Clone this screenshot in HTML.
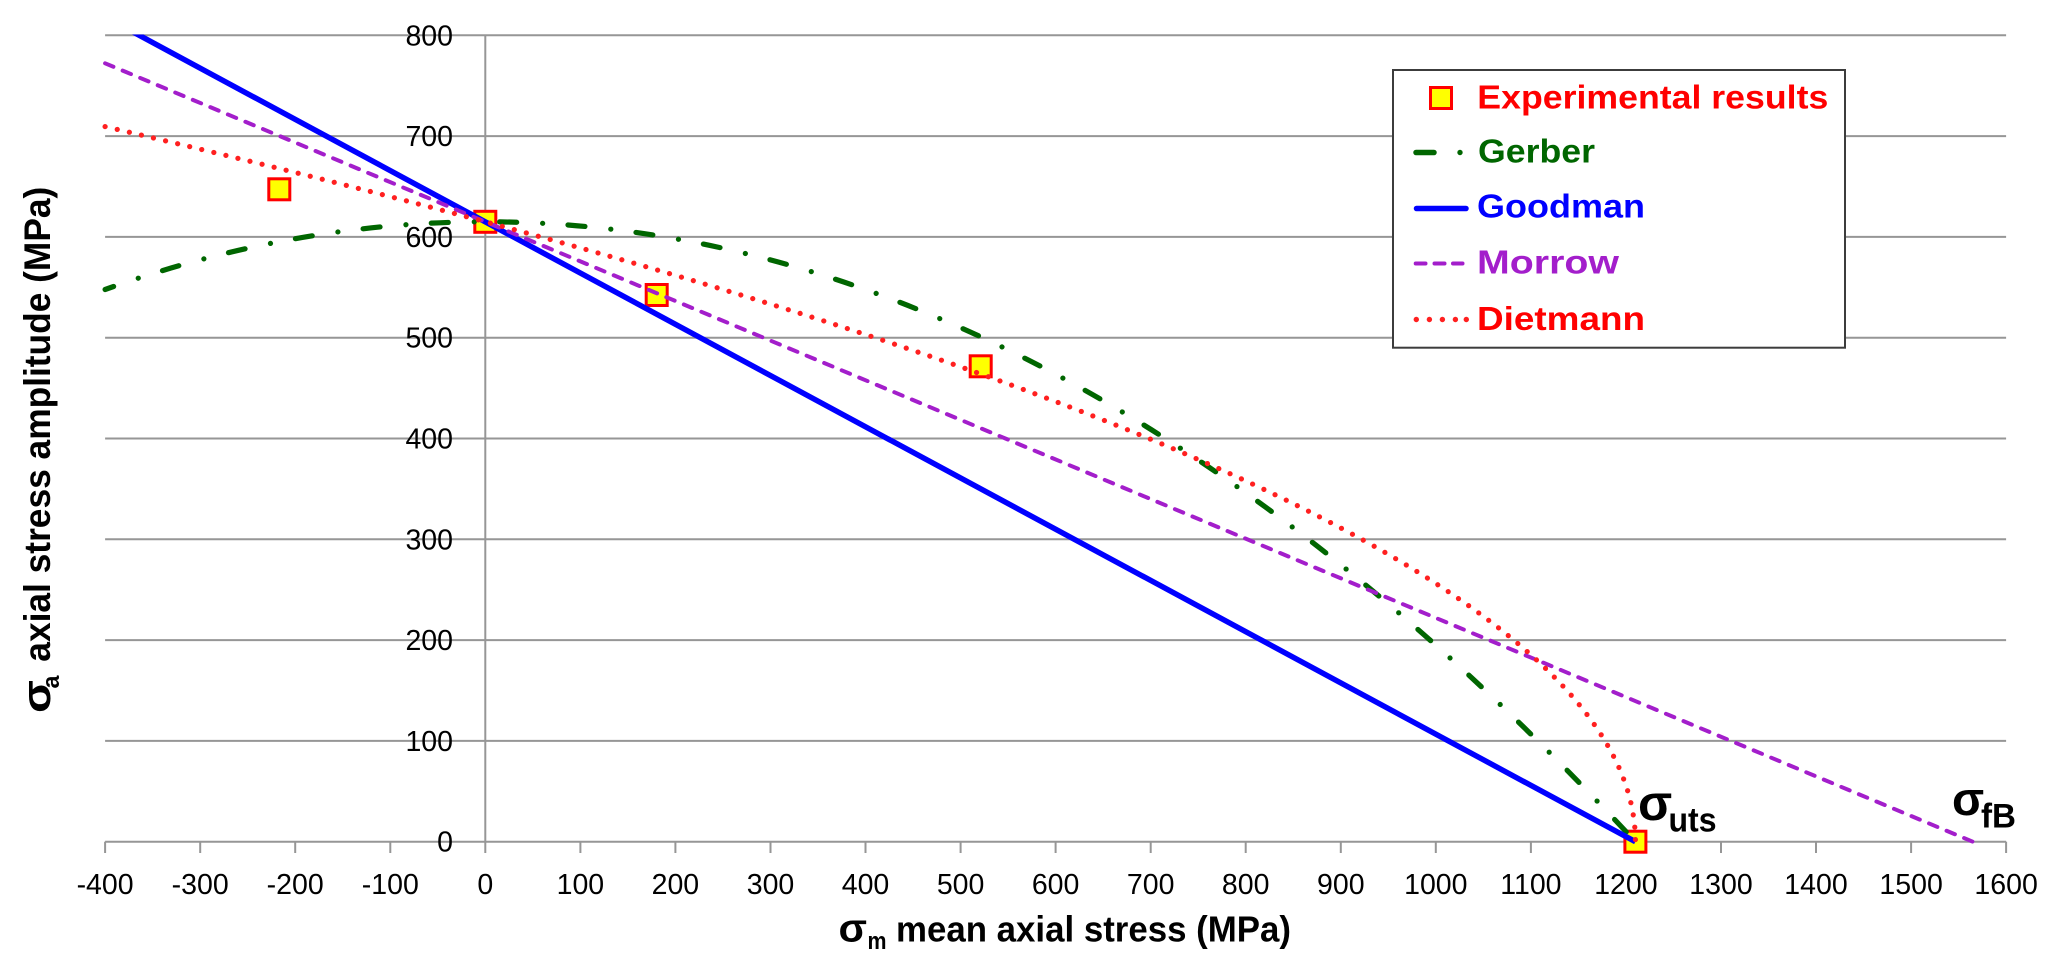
<!DOCTYPE html>
<html>
<head>
<meta charset="utf-8">
<style>
html,body{margin:0;padding:0;background:#fff;}
svg{display:block;}
text{font-family:"Liberation Sans",Arial,sans-serif;}
.tk{font-size:28.5px;fill:#000;}
.b{font-weight:bold;}
</style>
</head>
<body>
<svg width="2066" height="966" viewBox="0 0 2066 966" xmlns="http://www.w3.org/2000/svg">
<defs>
<clipPath id="pa"><rect x="100" y="34.5" width="1910" height="816"/></clipPath>
</defs>
<rect width="2066" height="966" fill="#fff"/>

<!-- horizontal gridlines -->
<g stroke="#969696" stroke-width="2">
<line x1="105.1" y1="35.3" x2="2006.1" y2="35.3"/>
<line x1="105.1" y1="136.1" x2="2006.1" y2="136.1"/>
<line x1="105.1" y1="236.9" x2="2006.1" y2="236.9"/>
<line x1="105.1" y1="337.7" x2="2006.1" y2="337.7"/>
<line x1="105.1" y1="438.5" x2="2006.1" y2="438.5"/>
<line x1="105.1" y1="539.3" x2="2006.1" y2="539.3"/>
<line x1="105.1" y1="640.1" x2="2006.1" y2="640.1"/>
<line x1="105.1" y1="740.9" x2="2006.1" y2="740.9"/>
<line x1="105.1" y1="841.7" x2="2006.1" y2="841.7"/>
<!-- y axis -->
<line x1="485.3" y1="35.3" x2="485.3" y2="853"/>
<!-- x ticks -->
<line x1="105.1" y1="841.7" x2="105.1" y2="853"/>
<line x1="200.2" y1="841.7" x2="200.2" y2="853"/>
<line x1="295.2" y1="841.7" x2="295.2" y2="853"/>
<line x1="390.3" y1="841.7" x2="390.3" y2="853"/>
<line x1="580.4" y1="841.7" x2="580.4" y2="853"/>
<line x1="675.4" y1="841.7" x2="675.4" y2="853"/>
<line x1="770.5" y1="841.7" x2="770.5" y2="853"/>
<line x1="865.5" y1="841.7" x2="865.5" y2="853"/>
<line x1="960.6" y1="841.7" x2="960.6" y2="853"/>
<line x1="1055.6" y1="841.7" x2="1055.6" y2="853"/>
<line x1="1150.7" y1="841.7" x2="1150.7" y2="853"/>
<line x1="1245.7" y1="841.7" x2="1245.7" y2="853"/>
<line x1="1340.8" y1="841.7" x2="1340.8" y2="853"/>
<line x1="1435.8" y1="841.7" x2="1435.8" y2="853"/>
<line x1="1530.9" y1="841.7" x2="1530.9" y2="853"/>
<line x1="1625.9" y1="841.7" x2="1625.9" y2="853"/>
<line x1="1721" y1="841.7" x2="1721" y2="853"/>
<line x1="1816" y1="841.7" x2="1816" y2="853"/>
<line x1="1911.1" y1="841.7" x2="1911.1" y2="853"/>
<line x1="2006.1" y1="841.7" x2="2006.1" y2="853"/>
</g>

<!-- y tick labels -->
<g class="tk" text-anchor="end">
<text x="453" y="45.3">800</text>
<text x="453" y="146.1">700</text>
<text x="453" y="246.9">600</text>
<text x="453" y="347.7">500</text>
<text x="453" y="448.5">400</text>
<text x="453" y="549.3">300</text>
<text x="453" y="650.1">200</text>
<text x="453" y="750.9">100</text>
<text x="453" y="851.7">0</text>
</g>

<!-- x tick labels -->
<g class="tk" text-anchor="middle">
<text x="105.1" y="894">-400</text>
<text x="200.2" y="894">-300</text>
<text x="295.2" y="894">-200</text>
<text x="390.3" y="894">-100</text>
<text x="485.3" y="894">0</text>
<text x="580.4" y="894">100</text>
<text x="675.4" y="894">200</text>
<text x="770.5" y="894">300</text>
<text x="865.5" y="894">400</text>
<text x="960.6" y="894">500</text>
<text x="1055.6" y="894">600</text>
<text x="1150.7" y="894">700</text>
<text x="1245.7" y="894">800</text>
<text x="1340.8" y="894">900</text>
<text x="1435.8" y="894">1000</text>
<text x="1530.9" y="894">1100</text>
<text x="1625.9" y="894">1200</text>
<text x="1721" y="894">1300</text>
<text x="1816" y="894">1400</text>
<text x="1911.1" y="894">1500</text>
<text x="2006.1" y="894">1600</text>
</g>

<!-- experimental markers (drawn beneath lines) -->
<g fill="#FFFF00" stroke="#FF0000" stroke-width="3">
<rect x="268.8" y="178.8" width="21" height="21"/>
<rect x="474.8" y="211.3" width="21" height="21"/>
<rect x="646.2" y="284.5" width="21" height="21"/>
<rect x="970.2" y="355.8" width="21" height="21"/>
<rect x="1624.9" y="831.2" width="21" height="21"/>
</g>

<g clip-path="url(#pa)" fill="none">
<!-- Gerber -->
<path d="M105.1,289.5 Q870.3,16.9 1635.4,841.7" stroke="#006600" stroke-width="5.2" stroke-linecap="round" stroke-dasharray="17 26 0.01 25.4" stroke-dashoffset="8"/>
<!-- Goodman -->
<path d="M105.1,16.9 L1635.4,841.7" stroke="#0000FF" stroke-width="5.5"/>
<!-- Morrow -->
<path d="M105.1,63.3 L1972.8,841.7" stroke="#A31ECB" stroke-width="4" stroke-linecap="round" stroke-dasharray="9 10"/>
<!-- Dietmann -->
<path d="M105.1,126.6 Q1635.4,484.2 1635.4,841.7" stroke="#FF2020" stroke-width="5.2" stroke-linecap="round" stroke-dasharray="0.01 12.4"/>
</g>

<!-- sigma annotations -->
<text class="b" x="1638" y="820" font-size="50" fill="#000">σ</text>
<text class="b" x="1668.5" y="831.5" font-size="34" fill="#000" textLength="48" lengthAdjust="spacingAndGlyphs">uts</text>
<text class="b" x="1952" y="815" font-size="47" fill="#000">σ</text>
<text class="b" x="1981" y="827.3" font-size="34" fill="#000" textLength="35" lengthAdjust="spacingAndGlyphs">fB</text>

<!-- legend -->
<rect x="1393" y="70" width="452" height="277.7" fill="#fff" stroke="#3c3c3c" stroke-width="2"/>
<rect x="1430.5" y="87.5" width="21" height="21" fill="#FFFF00" stroke="#FF0000" stroke-width="3"/>
<text class="b" x="1477.3" y="108.5" font-size="33" fill="#FF0000" textLength="351" lengthAdjust="spacingAndGlyphs">Experimental results</text>

<line x1="1416" y1="152.5" x2="1434" y2="152.5" stroke="#006600" stroke-width="5.5" stroke-linecap="round"/>
<circle cx="1460" cy="152.5" r="2.7" fill="#006600"/>
<text class="b" x="1478" y="162.5" font-size="33" fill="#006600" textLength="117" lengthAdjust="spacingAndGlyphs">Gerber</text>

<line x1="1416.5" y1="208.5" x2="1466" y2="208.5" stroke="#0000FF" stroke-width="5.5" stroke-linecap="round"/>
<text class="b" x="1477" y="217.5" font-size="33" fill="#0000FF" textLength="168" lengthAdjust="spacingAndGlyphs">Goodman</text>

<g stroke="#A31ECB" stroke-width="4" stroke-linecap="round">
<line x1="1415.7" y1="263.5" x2="1425.5" y2="263.5"/>
<line x1="1434.5" y1="263.5" x2="1444.5" y2="263.5"/>
<line x1="1453" y1="263.5" x2="1462.5" y2="263.5"/>
</g>
<text class="b" x="1477" y="273.5" font-size="33" fill="#A31ECB" textLength="142" lengthAdjust="spacingAndGlyphs">Morrow</text>

<g fill="#FF2020">
<circle cx="1416.3" cy="319.5" r="2.7"/>
<circle cx="1429.4" cy="319.5" r="2.7"/>
<circle cx="1442.4" cy="319.5" r="2.7"/>
<circle cx="1455.4" cy="319.5" r="2.7"/>
<circle cx="1466.3" cy="319.5" r="2.7"/>
</g>
<text class="b" x="1477" y="330" font-size="33" fill="#FF0000" textLength="168" lengthAdjust="spacingAndGlyphs">Dietmann</text>

<!-- x axis title -->
<text class="b" x="838.5" y="941.5" font-size="40" fill="#000" textLength="28.5" lengthAdjust="spacingAndGlyphs">σ</text>
<text class="b" x="867.5" y="949" font-size="24" fill="#000" textLength="19" lengthAdjust="spacingAndGlyphs">m</text>
<text class="b" x="896" y="941.5" font-size="36" fill="#000" textLength="395" lengthAdjust="spacingAndGlyphs">mean axial stress (MPa)</text>

<!-- y axis title -->
<text class="b" transform="translate(50,713) rotate(-90)" font-size="40" fill="#000" textLength="33" lengthAdjust="spacingAndGlyphs">σ</text>
<text class="b" transform="translate(59,688.5) rotate(-90)" font-size="24" fill="#000" textLength="13" lengthAdjust="spacingAndGlyphs">a</text>
<text class="b" transform="translate(50,661.7) rotate(-90)" font-size="37" fill="#000" textLength="475" lengthAdjust="spacingAndGlyphs">axial stress amplitude (MPa)</text>
</svg>
</body>
</html>
